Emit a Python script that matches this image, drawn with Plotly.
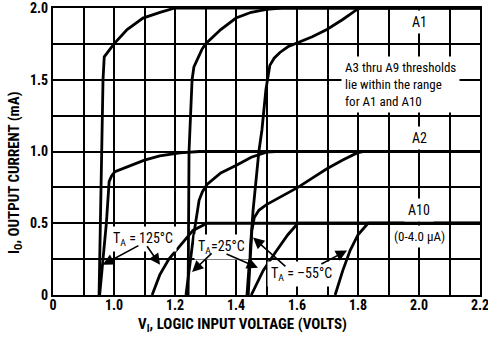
import plotly.graph_objects as go

# ---- data (input voltage in volts, output current in mA) ----
a1_125_x = [0.951, 0.958, 0.964, 0.968, 0.985, 1.000, 1.043, 1.095, 1.151, 1.200, 2.2]
a1_125_y = [0.00, 0.80, 1.50, 1.66, 1.71, 1.75, 1.85, 1.93, 1.97, 2.00, 2.00]
a2_125_x = [0.953, 0.975, 0.984, 0.992, 1.003, 1.050, 1.100, 1.150, 1.216, 1.280, 2.2]
a2_125_y = [0.00, 0.50, 0.79, 0.83, 0.86, 0.90, 0.94, 0.97, 0.99, 1.00, 1.00]
a10_125_x = [1.125, 1.150, 1.180, 1.216, 1.259, 1.305, 2.2]
a10_125_y = [0.00, 0.14, 0.25, 0.34, 0.45, 0.50, 0.50]

a1_25_x = [1.243, 1.246, 1.256, 1.262, 1.288, 1.300, 1.350, 1.400, 1.450, 1.500, 1.550, 2.2]
a1_25_y = [0.00, 1.00, 1.50, 1.59, 1.71, 1.75, 1.85, 1.93, 1.97, 1.99, 2.00, 2.00]
a2_25_x = [1.236, 1.260, 1.279, 1.290, 1.305, 1.350, 1.403, 1.450, 1.500, 1.530, 2.2]
a2_25_y = [0.00, 0.40, 0.66, 0.72, 0.77, 0.85, 0.906, 0.96, 0.995, 1.00, 1.00]
a10_25_x = [1.450, 1.470, 1.489, 1.530, 1.570, 1.603, 2.2]
a10_25_y = [0.00, 0.09, 0.17, 0.30, 0.42, 0.50, 0.50]

a1_m55_x = [1.436, 1.456, 1.475, 1.485, 1.498, 1.505, 1.511, 1.525, 1.544, 1.570, 1.600, 1.650, 1.698, 1.750, 1.797, 1.810, 2.2]
a1_m55_y = [0.00, 0.59, 1.00, 1.15, 1.43, 1.52, 1.60, 1.65, 1.69, 1.73, 1.756, 1.80, 1.85, 1.92, 1.99, 2.00, 2.00]
a2_m55_x = [1.440, 1.452, 1.460, 1.475, 1.500, 1.550, 1.603, 1.650, 1.698, 1.750, 1.797, 1.820, 2.2]
a2_m55_y = [0.00, 0.45, 0.54, 0.59, 0.63, 0.69, 0.75, 0.815, 0.88, 0.94, 0.99, 1.00, 1.00]
a10_m55_x = [1.725, 1.750, 1.774, 1.800, 1.833, 2.2]
a10_m55_y = [0.00, 0.17, 0.31, 0.42, 0.50, 0.50]

x_tick_vals = [0.8, 0.9, 1.0, 1.1, 1.2, 1.3, 1.4, 1.5, 1.6, 1.7, 1.8, 1.9, 2.0, 2.1, 2.2]
x_tick_text = ["0", "", "1.0", "", "1.2", "", "1.4", "", "1.6", "", "1.8", "", "2.0", "", "2.2"]
y_tick_vals = [0, 0.25, 0.5, 0.75, 1.0, 1.25, 1.5, 1.75, 2.0]
y_tick_text = ["0", "", "0.5", "", "1.0", "", "1.5", "", "2.0"]

FONT = "Liberation Sans Narrow, Roboto Condensed, Arial Narrow, Liberation Sans, sans-serif"

fig = go.Figure()
curves = [
    (a1_125_x, a1_125_y), (a2_125_x, a2_125_y), (a10_125_x, a10_125_y),
    (a1_25_x, a1_25_y), (a2_25_x, a2_25_y), (a10_25_x, a10_25_y),
    (a1_m55_x, a1_m55_y), (a2_m55_x, a2_m55_y), (a10_m55_x, a10_m55_y),
]
for cx, cy in curves:
    fig.add_trace(go.Scatter(x=cx, y=cy, mode="lines",
                             line=dict(color="black", width=2.8),
                             showlegend=False, hoverinfo="skip", cliponaxis=False))

annotations = []
def label(x, y, text, size=13, align="center", weight="normal"):
    annotations.append(dict(x=x, y=y, xref="x", yref="y", text=text, showarrow=False,
                            font=dict(family=FONT, size=size, color="black", weight=weight),
                            bgcolor="white", borderpad=3, align=align))

def arrow(tx, ty, hx, hy):
    annotations.append(dict(x=hx, y=hy, ax=tx, ay=ty, xref="x", yref="y",
                            axref="x", ayref="y", text="", showarrow=True,
                            arrowhead=2, arrowsize=1.4, arrowwidth=1.6,
                            arrowcolor="black", standoff=0, startstandoff=0))

label(2.0, 1.90, "A1", size=14)
label(2.0, 1.095, "A2", size=14)
label(2.0, 0.59, "A10", size=14)
label(2.0, 0.41, "(0-4.0 \u03bcA)")
label(1.94, 1.47, "A3 thru A9 thresholds<br>lie within the range<br>for A1 and A10", align="left")

label(1.095, 0.39, "T<sub>A</sub> = 125\u00b0C", size=14)
arrow(1.085, 0.35, 0.963, 0.21)
arrow(1.105, 0.35, 1.151, 0.21)

label(1.352, 0.335, "T<sub>A</sub>=25\u00b0C", size=14)
arrow(1.325, 0.30, 1.256, 0.16)
arrow(1.364, 0.29, 1.472, 0.19)

label(1.615, 0.145, "T<sub>A</sub> = \u201355\u00b0C", size=14)
arrow(1.567, 0.19, 1.456, 0.40)
arrow(1.675, 0.21, 1.764, 0.31)

# axis titles as paper annotations
annotations.append(dict(x=0.443, y=0, xref="paper", yref="paper", showarrow=False,
                        yanchor="middle", yshift=-30,
                        text="V<sub>I</sub>, LOGIC INPUT VOLTAGE (VOLTS)",
                        font=dict(family=FONT, size=15, color="black", weight="bold")))
annotations.append(dict(x=0, y=0.425, xref="paper", yref="paper", showarrow=False,
                        xanchor="center", xshift=-38, textangle=-90,
                        text="I<sub>O</sub>, OUTPUT CURRENT (mA)",
                        font=dict(family=FONT, size=15, color="black", weight="bold")))

fig.update_layout(
    width=488, height=338,
    margin=dict(l=53, r=8, t=8, b=43, autoexpand=False),
    paper_bgcolor="white", plot_bgcolor="white",
    font=dict(family=FONT, size=13, color="black"),
    annotations=annotations,
    xaxis=dict(range=[0.8, 2.2], tickvals=x_tick_vals, ticktext=x_tick_text,
               showgrid=True, gridcolor="black", gridwidth=1.5,
               showline=True, linecolor="black", linewidth=2, mirror=True,
               ticks="", zeroline=False, automargin=False,
               ticklabelstandoff=-4, ticklabeloverflow="allow",
               tickfont=dict(size=14, weight="bold")),
    yaxis=dict(range=[0, 2.0], tickvals=y_tick_vals, ticktext=y_tick_text,
               showgrid=True, gridcolor="black", gridwidth=1.5,
               showline=True, linecolor="black", linewidth=2, mirror=True,
               ticks="", zeroline=False, automargin=False,
               ticklabeloverflow="allow",
               tickfont=dict(size=14, weight="bold")),
)
# remove the default 8px page margin so the figure sits at the window's top-left corner
fig.write_html("out.html", config={"displayModeBar": False},
               post_script="document.body.style.margin='0';")
